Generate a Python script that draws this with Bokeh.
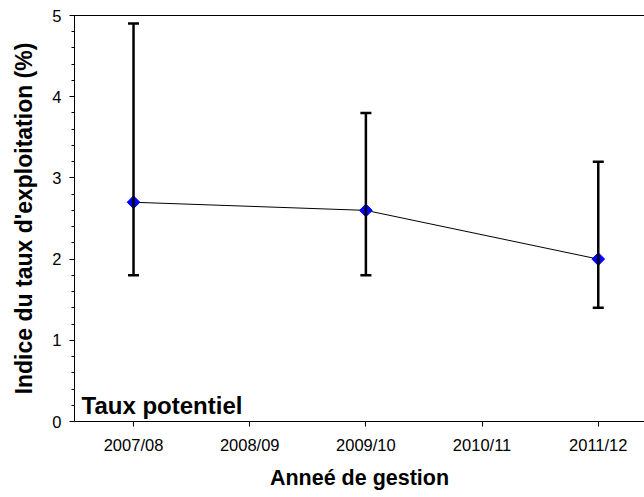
import numpy as np
from bokeh.plotting import figure
from bokeh.models import (Range1d, LinearAxis, FixedTicker, Whisker, TeeHead,
                          ColumnDataSource, Label, Title)
from bokeh.embed import file_html
from bokeh.resources import INLINE

# ---- data ----
years = ["2007/08", "2008/09", "2009/10", "2010/11", "2011/12"]
point_years = ["2007/08", "2009/10", "2011/12"]
values = [2.7, 2.6, 2.0]
lower = [1.8, 1.8, 1.4]
upper = [4.9, 3.8, 3.2]
y_ticks = [0, 1, 2, 3, 4, 5]

FONT = "Liberation Sans"

xpos = [years.index(y) for y in point_years]
src = ColumnDataSource(dict(x=xpos, y=values, lower=lower, upper=upper))

p = figure(width=644, height=497, output_backend="svg", toolbar_location=None,
           x_range=Range1d(-0.508, 4.398), y_range=Range1d(0, 5),
           min_border_left=74, min_border_right=0, min_border_top=15,
           min_border_bottom=75, outline_line_color=None,
           x_axis_location="below")
p.grid.visible = False
p.background_fill_color = "white"
p.border_fill_color = "white"

# x axis
xa = p.xaxis[0]
xa.ticker = FixedTicker(ticks=list(range(len(years))))
xa.major_label_overrides = {i: y for i, y in enumerate(years)}
xa.major_tick_out = 5
xa.major_tick_in = 0
xa.minor_tick_line_color = None
xa.major_label_standoff = 9
xa.major_label_text_font = FONT
xa.major_label_text_font_size = "16.5px"
xa.major_label_text_line_height = 1.0
xa.major_label_text_color = "black"
xa.axis_line_color = "black"
xa.major_tick_line_color = "black"

# y axis
ya = p.yaxis[0]
ya.ticker = FixedTicker(ticks=y_ticks,
                        minor_ticks=[v / 5 for v in range(0, 26)])
ya.major_tick_out = 5
ya.major_tick_in = 0
ya.minor_tick_out = 3
ya.minor_tick_in = 0
ya.major_label_standoff = 8
ya.major_label_text_font = FONT
ya.major_label_text_font_size = "16.5px"
ya.major_label_text_color = "black"
ya.axis_line_color = "black"
ya.axis_label = "Indice du taux d'exploitation (%)"
ya.axis_label_text_font = FONT
ya.axis_label_text_font_size = "23px"
ya.axis_label_text_font_style = "bold"
ya.axis_label_text_color = "black"
ya.axis_label_standoff = 12

# top border line
top = LinearAxis(ticker=FixedTicker(ticks=[]), major_tick_out=0,
                 major_label_text_font_size="0px", major_label_standoff=0,
                 axis_line_color="black", minor_tick_line_color=None)
p.add_layout(top, "above")

# x axis title
xt = Title(text="Anneé de gestion", align="center", offset=7,
           text_font=FONT, text_font_size="21.5px", text_font_style="bold",
           text_color="black", standoff=15)
p.add_layout(xt, "below")

# connecting line
p.line("x", "y", source=src, line_color="black", line_width=1)

# error bars
wh = Whisker(base="x", lower="lower", upper="upper", source=src,
             line_color="black", line_width=2.5, level="glyph",
             upper_head=TeeHead(size=11, line_width=2.5, line_color="black"),
             lower_head=TeeHead(size=11, line_width=2.5, line_color="black"))
p.add_layout(wh)

# markers
p.scatter("x", "y", source=src, marker="square", size=9, angle=np.pi / 4,
          fill_color="#0000ff", line_color="#0000ff")

# panel label
lab = Label(x=p.x_range.start, y=0.2, x_offset=7, y_offset=0,
            text="Taux potentiel", text_font=FONT, text_font_size="24px",
            text_font_style="bold", text_color="black",
            text_baseline="alphabetic")
p.add_layout(lab)

open("out.html", "w").write(file_html(p, INLINE))
